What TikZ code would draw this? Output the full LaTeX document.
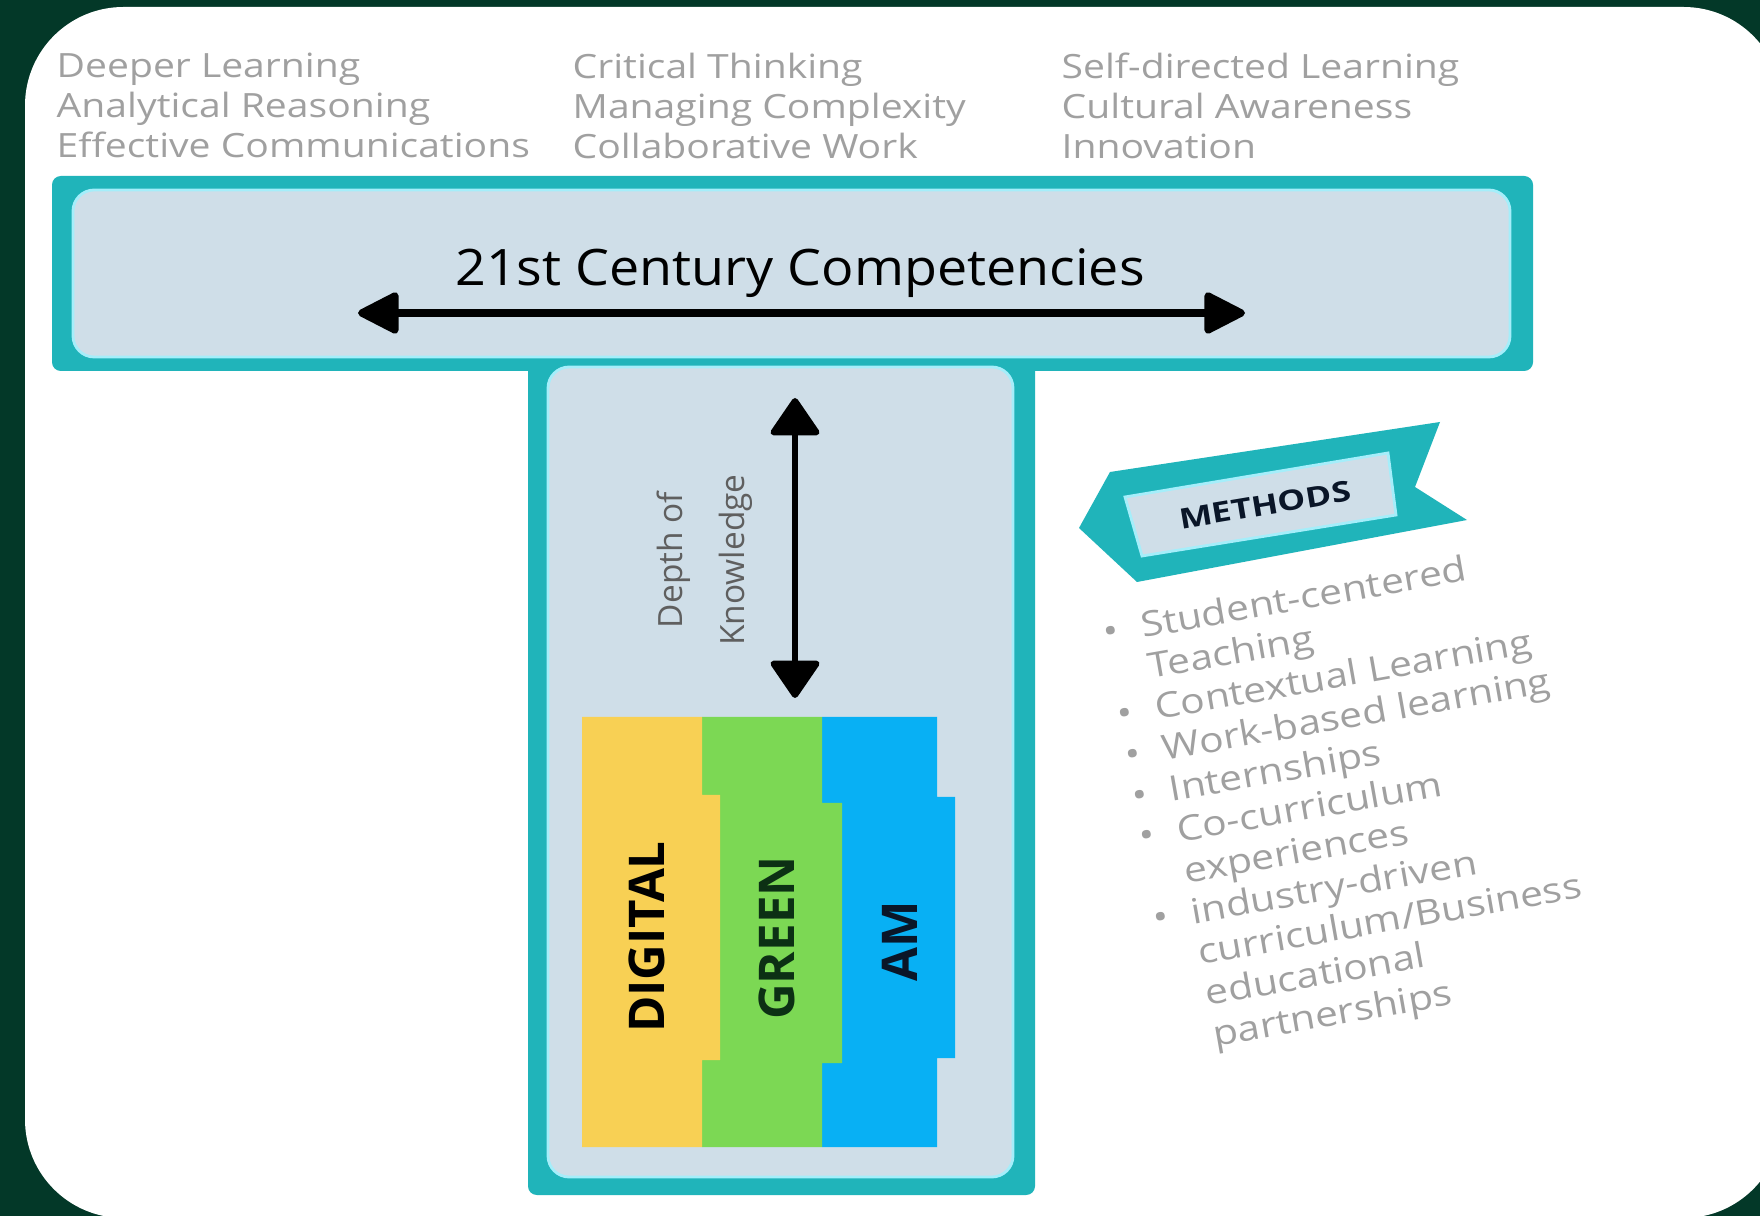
\documentclass[tikz,border=0pt]{standalone}
\usepackage{fontspec}
\setmainfont{Open Sans}
\newfontfamily\widesans[FakeStretch=1.17]{Open Sans}
\newfontfamily\headsans[FakeStretch=1.07]{Open Sans}
\usetikzlibrary{arrows.meta}
\definecolor{bgdark}{RGB}{3,56,40}
\definecolor{tealrim}{RGB}{32,180,186}
\definecolor{glow}{RGB}{165,238,250}
\definecolor{panel}{RGB}{207,222,232}
\definecolor{softgray}{RGB}{160,160,160}
\definecolor{midgray}{RGB}{95,95,95}
\definecolor{digiyellow}{RGB}{248,208,84}
\definecolor{leafgreen}{RGB}{124,216,84}
\definecolor{amblue}{RGB}{8,176,244}
\definecolor{greenink}{RGB}{12,48,20}
\definecolor{navyink}{RGB}{10,22,40}
\tikzset{
  skilltext/.style = {anchor=north west, align=left, inner sep=0pt,
    text=softgray, font=\widesans\fontsize{9.5}{11.4}\selectfont},% top columns
  headtext/.style = {anchor=base, inner sep=0pt,
    font=\headsans\fontsize{14.3}{18}\selectfont},
  rim/.style = {fill=tealrim, rounded corners=2.5pt},
  panelbox/.style = {fill=panel, draw=glow, line width=0.8pt,
    rounded corners=6pt},
  pillar/.style = {inner sep=0pt, rotate=90,
    font=\fontsize{14}{16}\selectfont\bfseries},% DIGITAL / GREEN / AM
  methodlist/.style = {anchor=north west, align=left, inner sep=0pt,
    text=softgray, rotate=10, font=\widesans\fontsize{9.9}{11.8}\selectfont},
}
\newcommand{\bul}{\makebox[1.1em][l]{\textbullet}}
\newcommand{\cont}{\hspace*{1.1em}}

\begin{document}
\begin{tikzpicture}[x=0.01cm,y=-0.01cm,
  >={Triangle[length=4.5mm,width=4.4mm,round]}]
  \useasboundingbox (0,0) rectangle (1760,1216);
  \fill[bgdark] (0,0) rectangle (1760,1216);
  \begin{scope}
    \clip (0,0) rectangle (1760,1216);
    \fill[white, rounded corners=28pt] (25,7) rectangle (1782,1218);
  \end{scope}

  % competencies above the bar
  \node[skilltext] (skillsa) at (56,52) {Deeper Learning\\Analytical Reasoning\\Effective Communications};
  \node[skilltext] (skillsb) at (572,52) {Critical Thinking\\Managing Complexity\\Collaborative Work};
  \node[skilltext] (skillsc) at (1061,52) {Self-directed Learning\\Cultural Awareness\\Innovation};

  % the T
  \fill[rim] (52,176) rectangle (1533,371);
  \fill[rim] (528,360) rectangle (1035,1195);
  \filldraw[panelbox] (73,190) rectangle (1510,357);
  \filldraw[panelbox] (548,367) rectangle (1013,1177);

  \node[headtext] (century) at (800,286) {21st Century Competencies};
  \coordinate (wideleft) at (358,313);
  \coordinate (wideright) at (1245,313);
  \draw[<->, line width=2pt] (wideleft) -- (wideright);

  % depth of knowledge
  \coordinate (deeptop) at (795,398);
  \coordinate (deepbottom) at (795,698);
  \draw[<->, line width=1.8pt, >={Triangle[length=4mm,width=5.3mm,round]}] (deeptop) -- (deepbottom);
  \node[inner sep=0pt, rotate=90, align=center, text=midgray,
    font=\fontsize{9.5}{17.6}\selectfont] (depth) at (705,560) {Depth of\\Knowledge};

  % pillars, right one first
  \fill[amblue] (822,717) -- (937,717) -- (937,797) -- (955,797) -- (955,1058)
    -- (937,1058) -- (937,1147) -- (822,1147) -- cycle;
  \fill[leafgreen] (702,717) -- (822,717) -- (822,803) -- (842,803) -- (842,1063)
    -- (822,1063) -- (822,1147) -- (702,1147) -- cycle;
  \fill[digiyellow] (582,717) -- (702,717) -- (702,795) -- (720,795) -- (720,1060)
    -- (702,1060) -- (702,1147) -- (582,1147) -- cycle;
  \node[pillar] (digital) at (647,937) {DIGITAL};
  \node[pillar, text=greenink] (green) at (777,938) {GREEN};
  \node[pillar, text=navyink] (am) at (900,941) {AM};

  % methods ribbon
  \fill[tealrim] (1079,528) -- (1110,472) -- (1440,422) -- (1415,487)
    -- (1467,520) -- (1137,582) -- cycle;
  \filldraw[fill=panel, draw=glow, line width=0.8pt] (1125,497) -- (1388,453)
    -- (1396,515) -- (1142,556) -- cycle;
  \node[inner sep=0pt, rotate=9.5, text=navyink,
    font=\fontsize{8}{10}\selectfont\bfseries] (methods) at (1265,505)
    {\scalebox{1.25}[1]{METHODS}};
  \node[methodlist] (methodsitems) at (1100,618) {%
    \bul Student-centered\\
    \cont Teaching\\
    \bul Contextual Learning\\
    \bul Work-based learning\\
    \bul Internships\\
    \bul Co-curriculum\\
    \cont experiences\\
    \bul industry-driven\\
    \cont curriculum/Business\\
    \cont educational\\
    \cont partnerships};
\end{tikzpicture}
\end{document}
